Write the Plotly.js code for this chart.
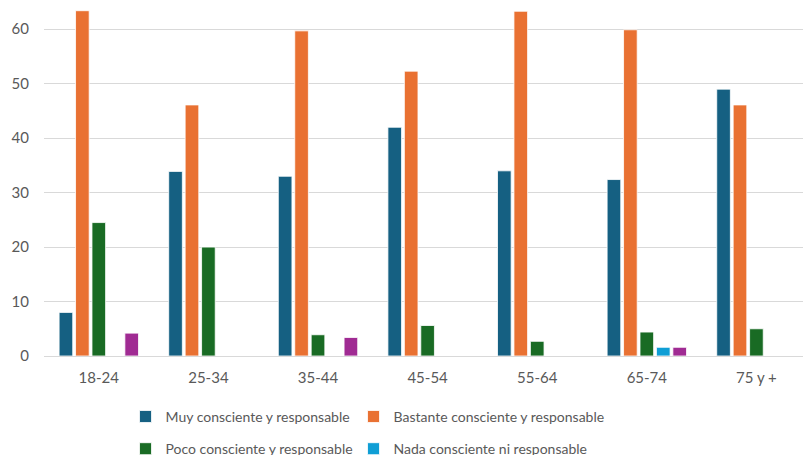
<!DOCTYPE html>
<html>
<head>
<meta charset="utf-8">
<script src="https://cdn.plot.ly/plotly-3.0.1.min.js"></script>
<style>
  html, body { margin: 0; padding: 0; background: #fff; overflow: hidden; }
  #chart { width: 803px; height: 455px; }
</style>
</head>
<body>
<div id="chart"></div>
<script>
// Age groups on the category axis
const ageGroups = ['18-24', '25-34', '35-44', '45-54', '55-64', '65-74', '75 y +'];

// Share of respondents (%) per awareness level
const muyConsciente      = [8.0, 33.9, 33.0, 42.0, 34.0, 32.4, 49.0];
const bastanteConsciente = [63.4, 46.1, 59.7, 52.3, 63.3, 59.9, 46.1];
const pocoConsciente     = [24.5, 20.0, 3.9, 5.6, 2.7, 4.4, 5.0];
const nadaConsciente     = [0, 0, 0, 0, 0, 1.6, 0];
const nsNc               = [4.2, 0, 3.4, 0, 0, 1.6, 0];

const seriesNames = [
  'Muy consciente y responsable',
  'Bastante consciente y responsable',
  'Poco consciente y responsable',
  'Nada consciente ni responsable',
  'NS/NC'
];
const seriesValues = [muyConsciente, bastanteConsciente, pocoConsciente, nadaConsciente, nsNc];
const seriesColors = ['#156082', '#E97132', '#196B24', '#0F9ED5', '#A02B93'];

// One legend per entry so the two-column grid can be placed freely;
// the last entry sits in a third row below the visible area.
const legendIds = ['legend', 'legend2', 'legend3', 'legend4', 'legend5'];
const legendX = [0.1074, 0.4078, 0.1074, 0.4078, 0.1074];
const legendY = [-0.172, -0.172, -0.263, -0.263, -0.354];

const FONT = 'Lato, "Liberation Sans", Arial, sans-serif';
const TEXT = '#595959';

const traces = seriesValues.map((vals, i) => ({
  type: 'bar',
  name: seriesNames[i],
  x: ageGroups,
  y: vals,
  legend: legendIds[i],
  marker: { color: seriesColors[i], line: { color: 'rgba(255,255,255,0.8)', width: 1 } },
  hoverinfo: 'x+y+name'
}));

const layout = {
  width: 803,
  height: 455,
  margin: { l: 44, r: 0, t: 2, b: 99, pad: 0, autoexpand: false },
  paper_bgcolor: '#ffffff',
  plot_bgcolor: '#ffffff',
  barmode: 'group',
  bargap: 0.25,
  bargroupgap: 0.17,
  font: { family: FONT, size: 14, color: TEXT },
  xaxis: {
    type: 'category',
    range: [-0.5, 6.425],
    showgrid: false,
    zeroline: false,
    showline: false,
    ticks: '',
    ticklabelstandoff: 11,
    tickfont: { family: FONT, size: 15, color: TEXT },
    fixedrange: true
  },
  yaxis: {
    range: [0, 65],
    tickvals: [0, 10, 20, 30, 40, 50, 60],
    showgrid: true,
    gridcolor: '#d9d9d9',
    gridwidth: 1,
    zeroline: true,
    zerolinecolor: '#d9d9d9',
    zerolinewidth: 1,
    showline: false,
    ticks: '',
    ticklabelstandoff: 14,
    tickfont: { family: FONT, size: 15, color: TEXT },
    fixedrange: true
  },
  showlegend: true
};

legendIds.forEach((id, i) => {
  layout[id] = {
    orientation: 'h',
    xanchor: 'left',
    yanchor: 'middle',
    xref: 'paper',
    yref: 'paper',
    x: legendX[i],
    y: legendY[i],
    itemwidth: 30,
    font: { family: FONT, size: 14, color: TEXT },
    bgcolor: 'rgba(0,0,0,0)'
  };
});

Plotly.newPlot('chart', traces, layout, { displayModeBar: false, staticPlot: true });
</script>
</body>
</html>
